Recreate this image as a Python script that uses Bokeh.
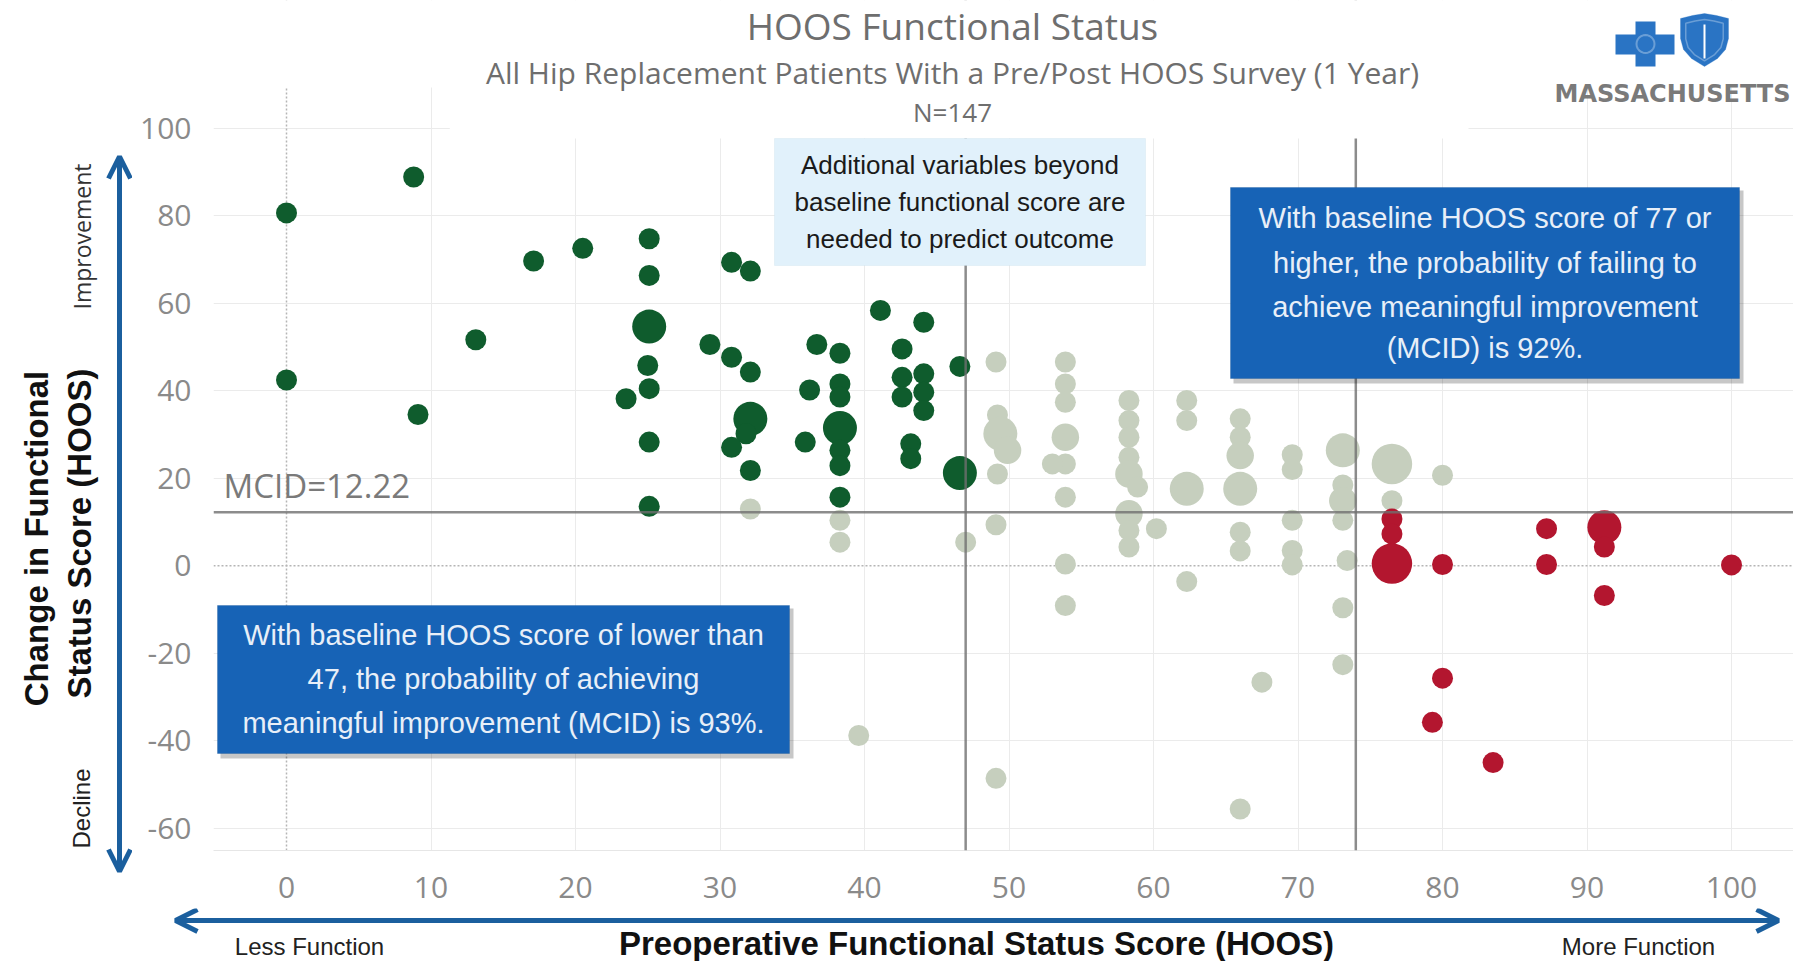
import math
from bokeh.plotting import figure
from bokeh.layouts import row, column
from bokeh.models import (Range1d, FixedTicker, Span, Label, BoxAnnotation,
                          PolyAnnotation, Arrow, OpenHead)
from bokeh.embed import file_html
from bokeh.resources import INLINE

# ---------------- data ----------------
# dark green: baseline < 47
GREEN_X = [0, 0, 8.8, 9.1, 13.1, 17.1, 20.5, 25.1, 25.1, 25.1, 25.0, 25.1, 23.5, 25.1, 25.1,
           29.3, 30.8, 32.1, 30.8, 32.1, 32.1, 31.8, 30.8, 32.1, 36.7, 38.3, 36.2, 38.3, 38.3,
           35.9, 38.3, 38.3, 38.3, 38.3, 41.1, 44.1, 42.6, 42.6, 42.6, 44.1, 44.1, 44.1, 43.2,
           43.2, 46.6, 46.6]
GREEN_Y = [80.7, 42.5, 88.9, 34.6, 51.7, 69.7, 72.6, 74.8, 66.4, 54.7, 45.8, 40.5, 38.2, 28.3, 13.6,
           50.6, 69.4, 67.4, 47.7, 44.3, 33.6, 30.2, 27.1, 21.8, 50.6, 48.6, 40.2, 41.6, 38.6,
           28.3, 31.5, 26.4, 22.9, 15.7, 58.4, 55.7, 49.6, 43.1, 38.6, 43.9, 39.7, 35.5, 27.9,
           24.5, 45.6, 21.2]
GREEN_N = [1, 1, 1, 1, 1, 1, 1, 1, 1, 3, 1, 1, 1, 1, 1,
           1, 1, 1, 1, 1, 3, 1, 1, 1, 1, 1, 1, 1, 1,
           1, 3, 1, 1, 1, 1, 1, 1, 1, 1, 1, 1, 1, 1,
           1, 1, 3]

# sage: baseline between 47 and 74
SAGE_X = [32.1, 38.3, 38.3, 39.6, 47.0, 49.1, 49.2, 49.4, 49.9, 49.2, 49.1, 49.1,
          53.9, 53.9, 53.9, 53.9, 53.9, 53.0, 53.9, 53.9, 53.9,
          58.3, 58.3, 58.3, 58.3, 58.3, 58.9, 58.3, 58.3, 58.3, 60.2,
          62.3, 62.3, 62.3, 62.3, 66.0, 66.0, 66.0, 66.0, 66.0, 66.0, 66.0, 67.5,
          69.6, 69.6, 69.6, 69.6, 69.6, 73.1, 73.1, 73.1, 73.1, 73.4, 73.1, 73.1,
          76.5, 76.5, 80.0]
SAGE_Y = [13.0, 10.4, 5.4, -38.8, 5.4, 46.6, 34.5, 30.2, 26.4, 21.0, 9.4, -48.6,
          46.6, 41.6, 37.4, 29.4, 23.3, 23.3, 15.7, 0.4, -9.1,
          37.8, 33.2, 29.4, 24.8, 21.0, 18.0, 11.9, 8.1, 4.3, 8.5,
          37.8, 33.2, 17.6, -3.6, 33.6, 29.4, 25.2, 17.6, 7.7, 3.4, -55.6, -26.6,
          25.4, 22.0, 10.4, 3.5, 0.2, 26.4, 18.5, 14.9, 10.4, 1.2, -9.6, -22.6,
          23.3, 14.9, 20.7]
SAGE_N = [1, 1, 1, 1, 1, 1, 1, 3, 2, 1, 1, 1,
          1, 1, 1, 2, 1, 1, 1, 1, 1,
          1, 1, 1, 1, 2, 1, 2, 1, 1, 1,
          1, 1, 3, 1, 1, 1, 2, 3, 1, 1, 1, 1,
          1, 1, 1, 1, 1, 3, 1, 2, 1, 1, 1, 1,
          4, 1, 1]

# red: baseline >= 74
RED_X = [76.5, 76.5, 76.5, 80.0, 80.0, 79.3, 83.5, 87.2, 87.2, 91.2, 91.2, 91.2, 100.0]
RED_Y = [10.7, 7.3, 0.5, 0.3, -25.7, -35.8, -45.0, 8.5, 0.3, 8.8, 4.3, -6.8, 0.2]
RED_N = [1, 1, 4, 1, 1, 1, 1, 1, 1, 3, 1, 1, 1]

X_TICKS = [0, 10, 20, 30, 40, 50, 60, 70, 80, 90, 100]
X_TICK_LABELS = ["0", "10", "20", "30", "40", "50", "60", "70", "80", "90", "100"]
Y_TICKS = [-60, -40, -20, 0, 20, 40, 60, 80, 100]
Y_TICK_LABELS = ["-60", "-40", "-20", "0", "20", "40", "60", "80", "100"]

MCID = 12.22
CUT_LOW = 47
CUT_HIGH = 74

TITLE = "HOOS Functional Status"
SUBTITLE = "All Hip Replacement Patients With a Pre/Post HOOS Survey (1 Year)"
N_TEXT = "N=147"
LEFT_BOX = ["With baseline HOOS score of lower than",
            "47, the probability of achieving",
            "meaningful improvement (MCID) is 93%."]
RIGHT_BOX = ["With baseline HOOS score of 77 or",
             "higher, the probability of failing to",
             "achieve meaningful improvement",
             "(MCID) is 92%."]
MID_BOX = ["Additional variables beyond",
           "baseline functional score are",
           "needed to predict outcome"]

# ---------------- layout (page pixels) ----------------
TOTAL_W, TOTAL_H = 1793, 961
LW = 132                       # left strip (y title, arrow)
MAIN_H = 908                   # main figure height
FRAME_L, FRAME_R, FRAME_T, FRAME_B = 213, 1793, 0, 850
X0, X1 = -5.052, 104.29
Y0, Y1 = -65.10, 129.27
Y_TOP_VISIBLE = 109.38         # top of the gridded area

GREEN = "#0f5c2d"
SAGE = "#c6cfbe"
RED = "#b3162f"
BOXBLUE = "#1763b6"
ARROWBLUE = "#1b5f9e"
LOGOBLUE = "#2a74c4"
SANS = "Liberation Sans"


def dx(fx):
    """page pixel x -> main data x (annotation placement)"""
    return X0 + (fx - FRAME_L) / (FRAME_R - FRAME_L) * (X1 - X0)


def dy(fy):
    return Y1 - (fy - FRAME_T) / (FRAME_B - FRAME_T) * (Y1 - Y0)


def diam(n):
    return 21 + 6.5 * (n - 1)


def no_align(f):
    try:
        f.frame_align = False
    except Exception:
        pass


def blank(width, height, x_range, y_range):
    f = figure(width=width, height=height, x_range=x_range, y_range=y_range,
               output_backend="svg", toolbar_location=None, title=None,
               x_axis_location=None, y_axis_location=None,
               min_border_left=0, min_border_right=0, min_border_top=0, min_border_bottom=0)
    f.outline_line_color = None
    f.xgrid.visible = False
    f.ygrid.visible = False
    f.background_fill_color = "white"
    f.border_fill_color = "white"
    no_align(f)
    return f


# ---------------- main figure ----------------
p = figure(width=TOTAL_W - LW, height=MAIN_H, x_range=Range1d(X0, X1), y_range=Range1d(Y0, Y1),
           output_backend="svg", toolbar_location=None, title=None,
           min_border_left=FRAME_L - LW, min_border_right=0,
           min_border_top=0, min_border_bottom=MAIN_H - FRAME_B)
p.outline_line_color = None
p.background_fill_color = "white"
p.border_fill_color = "white"
no_align(p)

for ax in p.xaxis:
    ax.ticker = FixedTicker(ticks=X_TICKS)
    ax.major_label_overrides = dict(zip(X_TICKS, X_TICK_LABELS))
    ax.major_label_text_font = "Open Sans"
    ax.major_label_text_font_size = "30px"
    ax.major_label_text_color = "#8a8a8a"
    ax.major_label_standoff = 20
    ax.axis_line_color = "#e6e6e6"
    ax.major_tick_line_color = None
    ax.minor_tick_line_color = None
for ax in p.yaxis:
    ax.ticker = FixedTicker(ticks=Y_TICKS)
    ax.major_label_overrides = dict(zip(Y_TICKS, Y_TICK_LABELS))
    ax.major_label_text_font = "Open Sans"
    ax.major_label_text_font_size = "30px"
    ax.major_label_text_color = "#8a8a8a"
    ax.major_label_standoff = 16
    ax.axis_line_color = None
    ax.major_tick_line_color = None
    ax.minor_tick_line_color = None

p.xgrid.ticker = FixedTicker(ticks=[t for t in X_TICKS if t != 0])
p.ygrid.ticker = FixedTicker(ticks=[t for t in Y_TICKS if t != 0])
p.xgrid.grid_line_color = "#ebebeb"
p.ygrid.grid_line_color = "#ebebeb"

# zero lines (dotted, under the points)
p.add_layout(Span(location=0, dimension="height", line_color="#b5b5b5",
                  line_dash="2 2", line_width=1.5, level="underlay"))
p.add_layout(Span(location=0, dimension="width", line_color="#b5b5b5",
                  line_dash="2 2", line_width=1.5, level="underlay"))

# points
p.scatter(SAGE_X, SAGE_Y, size=[diam(n) for n in SAGE_N], fill_color=SAGE, line_color=None)
p.scatter(GREEN_X, GREEN_Y, size=[diam(n) for n in GREEN_N], fill_color=GREEN, line_color=None)
p.scatter(RED_X, RED_Y, size=[diam(n) for n in RED_N], fill_color=RED, line_color=None)

# reference lines (over the points)
for loc, dim in [(MCID, "width"), (CUT_LOW, "height"), (CUT_HIGH, "height")]:
    p.add_layout(Span(location=loc, dimension=dim, line_color="#6f6f6f",
                      line_width=2.5, line_alpha=0.8))

# white header area hiding grid / lines above the chart
p.add_layout(BoxAnnotation(left=X0, right=X1, bottom=Y_TOP_VISIBLE, top=Y1,
                           fill_color="white", fill_alpha=1, line_color=None))
p.add_layout(BoxAnnotation(left=11.3, right=81.8, bottom=dy(138), top=Y1,
                           fill_color="white", fill_alpha=1, line_color=None))


def label(fig, tx, ty, text, size, color, font="Open Sans", style="normal",
          align="center", angle=0.0):
    fig.add_layout(Label(x=tx, y=ty, text=text, text_font=font,
                         text_font_size=f"{size}px", text_color=color,
                         text_font_style=style, text_align=align,
                         text_baseline="middle", angle=angle))


def mlabel(text, fx, fy, size, color, **kw):
    label(p, dx(fx), dy(fy), text, size, color, **kw)


def box(l, r, t, b, fill, line, shadow=True):
    if shadow:
        p.add_layout(BoxAnnotation(left=dx(l + 3), right=dx(r + 4), top=dy(t + 3), bottom=dy(b + 5),
                                   fill_color="#000000", fill_alpha=0.22, line_color=None))
    p.add_layout(BoxAnnotation(left=dx(l), right=dx(r), top=dy(t), bottom=dy(b),
                               fill_color=fill, fill_alpha=1, line_color=line, line_width=1))


# header texts
mlabel(TITLE, 952, 25, 37, "#6e6e6e")
mlabel(SUBTITLE, 952, 72, 30, "#6e6e6e")
mlabel(N_TEXT, 952, 111, 26, "#6e6e6e")
mlabel("MCID=12.22", 223, 485, 33, "#7a7a7a", align="left")

# annotation boxes
box(217, 789, 605, 753, BOXBLUE, "#0f4f96")
for txt, fy in zip(LEFT_BOX, [634, 678, 722]):
    mlabel(txt, 503, fy, 29, "#e8eff8", font=SANS)

box(1230, 1739, 187, 378, BOXBLUE, "#0f4f96")
for txt, fy in zip(RIGHT_BOX, [217, 262, 306, 347]):
    mlabel(txt, 1484.5, fy, 29, "#e8eff8", font=SANS)

box(774, 1145, 138, 265, "#e1f1fb", "#c8deec", shadow=False)
for txt, fy in zip(MID_BOX, [164, 201, 238]):
    mlabel(txt, 959.5, fy, 26, "#1a1a1a", font=SANS)

# logo: cross
p.add_layout(BoxAnnotation(left=dx(1635), right=dx(1655), top=dy(21), bottom=dy(66),
                           fill_color=LOGOBLUE, fill_alpha=1, line_color=None))
p.add_layout(BoxAnnotation(left=dx(1615), right=dx(1674), top=dy(34), bottom=dy(54),
                           fill_color=LOGOBLUE, fill_alpha=1, line_color=None))
ring = [(1645 + 9 * math.cos(a / 24 * 2 * math.pi), 43.5 + 9 * math.sin(a / 24 * 2 * math.pi))
        for a in range(24)]
p.add_layout(PolyAnnotation(xs=[dx(a) for a, b in ring], ys=[dy(b) for a, b in ring],
                            fill_color=None, fill_alpha=0, line_color="white", line_width=2))
# logo: shield
shield = [(1680, 18), (1692, 15), (1704, 13), (1716, 15), (1728, 18), (1728, 38),
          (1725, 49), (1717, 58), (1704, 66), (1691, 58), (1683, 49), (1680, 38)]
p.add_layout(PolyAnnotation(xs=[dx(a) for a, b in shield], ys=[dy(b) for a, b in shield],
                            fill_color=LOGOBLUE, fill_alpha=1, line_color=LOGOBLUE))
inner = [(1704 + (a - 1704) * 0.78, 40 + (b - 40) * 0.78) for a, b in shield]
p.add_layout(PolyAnnotation(xs=[dx(a) for a, b in inner], ys=[dy(b) for a, b in inner],
                            fill_color=None, fill_alpha=0, line_color="white", line_width=1.5))
p.add_layout(Arrow(start=None, end=None, x_start=dx(1704), y_start=dy(24), x_end=dx(1704),
                   y_end=dy(58), line_color="white", line_width=2))
mlabel("MASSACHUSETTS", 1672, 93, 24, "#7a7a7a", font="DejaVu Sans", style="bold")

# ---------------- left strip (page-pixel coordinates) ----------------
left = blank(LW, MAIN_H, Range1d(0, LW), Range1d(MAIN_H, 0))
left.add_layout(Arrow(start=OpenHead(size=22, line_width=5, line_color=ARROWBLUE),
                      end=OpenHead(size=22, line_width=5, line_color=ARROWBLUE),
                      x_start=119, y_start=871, x_end=119, y_end=156,
                      line_color=ARROWBLUE, line_width=5))
label(left, 36, 538, "Change in Functional", 33, "#111111", font=SANS, style="bold",
      angle=math.pi / 2)
label(left, 79, 533, "Status Score (HOOS)", 33, "#111111", font=SANS, style="bold",
      angle=math.pi / 2)
label(left, 81, 236, "Improvement", 23, "#333333", angle=math.pi / 2)
label(left, 81, 808, "Decline", 24, "#222222", font=SANS, angle=math.pi / 2)

# ---------------- footer (page-pixel coordinates) ----------------
FOOT_H = TOTAL_H - MAIN_H
foot = blank(TOTAL_W, FOOT_H, Range1d(0, TOTAL_W), Range1d(TOTAL_H, MAIN_H))
foot.add_layout(Arrow(start=OpenHead(size=22, line_width=5, line_color=ARROWBLUE),
                      end=OpenHead(size=22, line_width=5, line_color=ARROWBLUE),
                      x_start=175, y_start=920, x_end=1778, y_end=920,
                      line_color=ARROWBLUE, line_width=5))
label(foot, 309, 946, "Less Function", 24, "#222222", font=SANS)
label(foot, 1638, 946, "More Function", 24, "#222222", font=SANS)
label(foot, 976, 943, "Preoperative Functional Status Score (HOOS)", 33, "#111111",
      font=SANS, style="bold")

layout = column(row(left, p), foot)
open("out.html", "w").write(file_html(layout, INLINE))
